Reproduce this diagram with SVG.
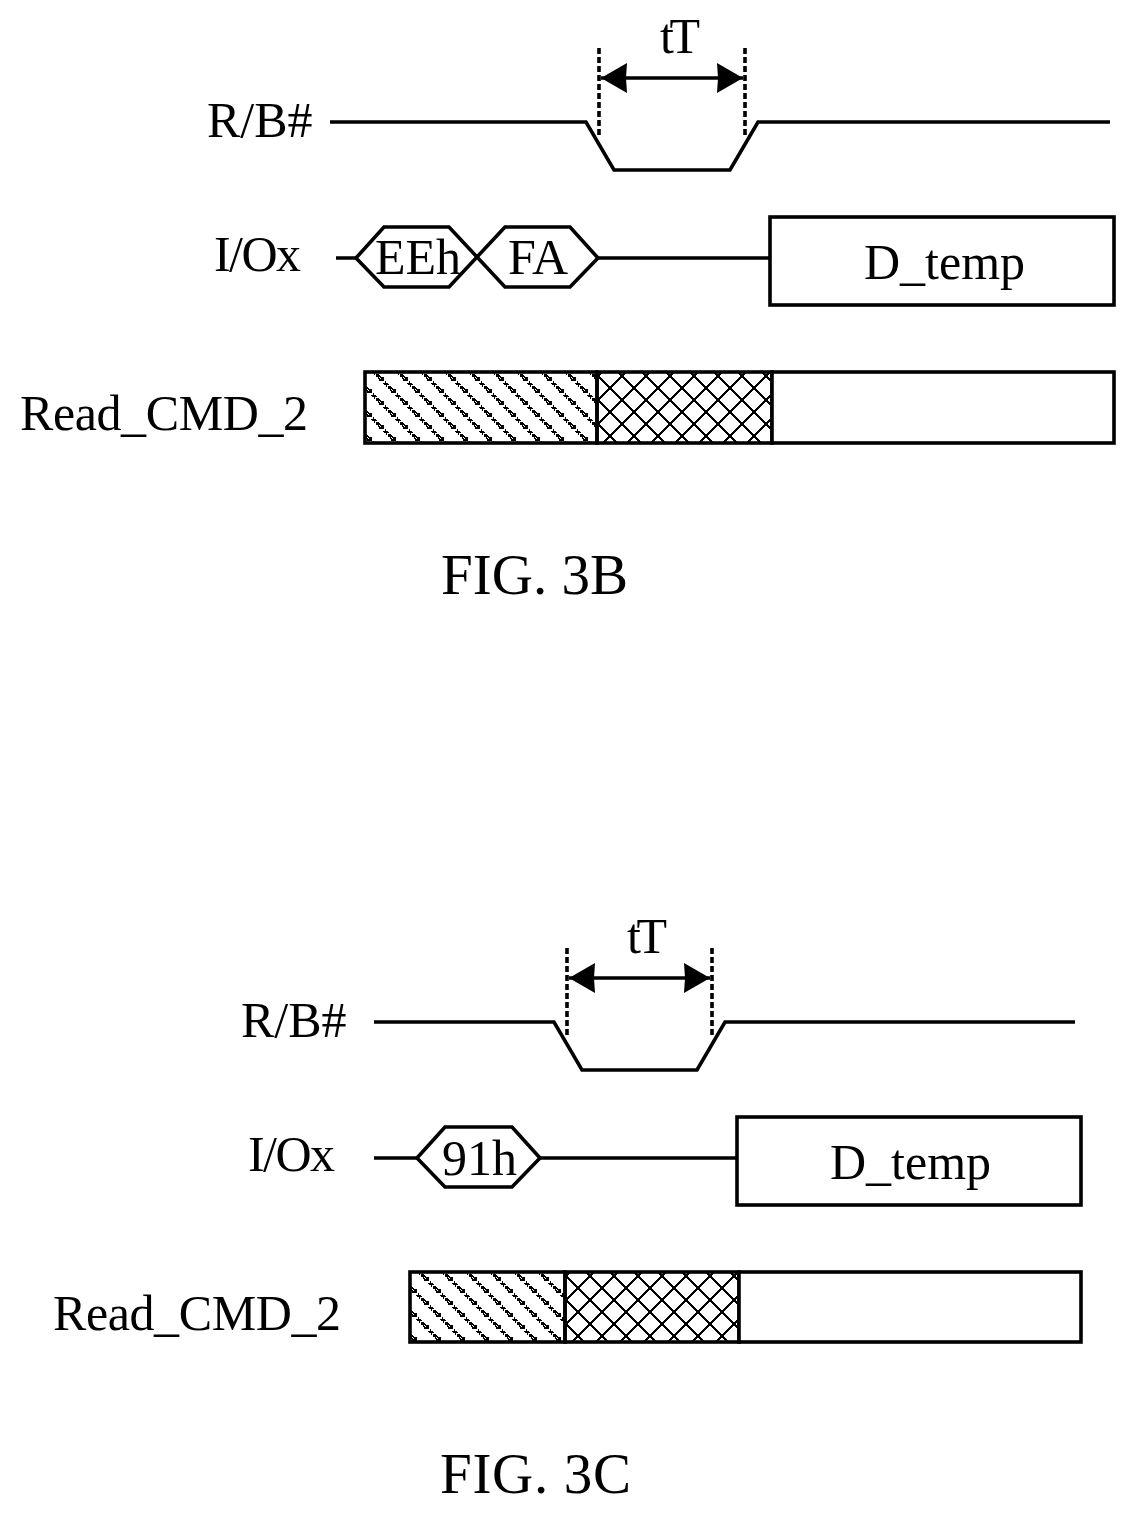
<svg xmlns="http://www.w3.org/2000/svg" width="1136" height="1515" viewBox="0 0 1136 1515">
<style>
text{font-family:"Liberation Serif","Times New Roman",serif;font-size:50px;fill:#000}
.cap{font-size:57px}
.ln{fill:none;stroke:#000;stroke-width:3.6}
.box{fill:#fff;stroke:#000;stroke-width:3.6}
.dash{fill:none;stroke:#000;stroke-width:3.6;stroke-dasharray:6 3}
.hat{fill:url(#hatch);stroke:#000;stroke-width:3.6}
.crs{fill:url(#cross);stroke:#000;stroke-width:3.6}
.dbl{fill:none;stroke:#000;stroke-width:3.6;marker-start:url(#ah);marker-end:url(#ah)}
</style>
<defs>
<marker id="ah" markerUnits="userSpaceOnUse" markerWidth="28" markerHeight="32" refX="26" refY="15" orient="auto-start-reverse"><path d="M0 0L26 15L0 30L1 15Z" fill="#000"/></marker>
<g id="blob"><path d="M-4 -4h3v1h1v1h1v1h3v4h-5v-2h-1v-2h-2z" fill="#000"/><path d="M-1 -1h1v1h1v1h-1v-1h-1z" fill="#fff"/></g>
<path id="tick" d="M5 3h1v2h2v1h1v1h-2v2h-1v-2h-2v-1h-1v-1h2z" fill="#000"/>
<pattern id="hatch" patternUnits="userSpaceOnUse" width="24" height="24" patternTransform="translate(380 378)">
<use href="#blob"/><use href="#blob" x="24"/><use href="#blob" y="24"/><use href="#blob" x="24" y="24"/><use href="#blob" x="12" y="12"/>
<use href="#tick"/><use href="#tick" x="12" y="12"/><use href="#tick" x="-12" y="12"/><use href="#tick" x="12" y="-12"/>
</pattern>
<pattern id="cross" patternUnits="userSpaceOnUse" width="24" height="24" patternTransform="translate(610 388)">
<path d="M-3 -3L27 27M-3 27L27 -3M-3 21L3 27M21 -3L27 3M21 27L27 21M-3 3L3 -3" fill="none" stroke="#000" stroke-width="1.5" shape-rendering="crispEdges"/>
</pattern>
<pattern id="hatch2" patternUnits="userSpaceOnUse" width="24" height="24" patternTransform="translate(425 1278)">
<use href="#blob"/><use href="#blob" x="24"/><use href="#blob" y="24"/><use href="#blob" x="24" y="24"/><use href="#blob" x="12" y="12"/>
<use href="#tick"/><use href="#tick" x="12" y="12"/><use href="#tick" x="-12" y="12"/><use href="#tick" x="12" y="-12"/>
</pattern>
<pattern id="cross2" patternUnits="userSpaceOnUse" width="24" height="24" patternTransform="translate(578 1288)">
<path d="M-3 -3L27 27M-3 27L27 -3M-3 21L3 27M21 -3L27 3M21 27L27 21M-3 3L3 -3" fill="none" stroke="#000" stroke-width="1.5" shape-rendering="crispEdges"/>
</pattern>
</defs>
<g id="connectors">
<path class="ln" d="M330 122H586L614 170H730L758 122H1110"/>
<path class="dash" d="M599 48V138M745 48V138"/>
<path class="dbl" d="M601 78H743"/>
<path class="ln" d="M336 258H356M598 258H770"/>
<path class="ln" d="M374 1022H554L582 1070H697L725 1022H1075"/>
<path class="dash" d="M567 948V1038M712 948V1038"/>
<path class="dbl" d="M569 978H710"/>
<path class="ln" d="M374 1158H417M540 1158H737"/>
</g>
<g id="fig3b">
<text id="tt1" x="660" y="53" textLength="40">tT</text>
<text id="rb1" x="207" y="137">R/B#</text>
<text id="io1" x="214" y="271" textLength="87">I/Ox</text>
<g id="eeh"><path class="ln" d="M356 258L384 227H449L505 287H570L598 258L570 227H505L449 287H384Z"/><text x="375" y="274">EEh</text></g>
<g id="fa"><text x="508" y="274">FA</text></g>
<g id="dtemp1"><rect class="box" x="770" y="217" width="344" height="88"/><text x="864" y="279">D_temp</text></g>
<text id="rc1" x="20" y="430" textLength="288">Read_CMD_2</text>
<g id="bar1">
<rect class="hat" x="365" y="372" width="232" height="71"/>
<rect class="crs" x="597" y="372" width="175" height="71"/>
<rect class="box" x="772" y="372" width="342" height="71"/>
</g>
<text id="cap1" class="cap" x="441" y="594" textLength="187">FIG. 3B</text>
</g>
<g id="fig3c">
<text id="tt2" x="627" y="953" textLength="40">tT</text>
<text id="rb2" x="241" y="1037">R/B#</text>
<text id="io2" x="248" y="1171" textLength="87">I/Ox</text>
<g id="h91"><path class="ln" d="M417 1158L445 1127H512L540 1158L512 1187H445Z"/><text x="442" y="1175">91h</text></g>
<g id="dtemp2"><rect class="box" x="737" y="1117" width="344" height="88"/><text x="830" y="1179">D_temp</text></g>
<text id="rc2" x="53" y="1330" textLength="288">Read_CMD_2</text>
<g id="bar2">
<rect x="410" y="1272" width="155" height="70" fill="url(#hatch2)" stroke="#000" stroke-width="3.6"/>
<rect x="565" y="1272" width="174" height="70" fill="url(#cross2)" stroke="#000" stroke-width="3.6"/>
<rect class="box" x="739" y="1272" width="342" height="70"/>
</g>
<text id="cap2" class="cap" x="440" y="1493" textLength="191">FIG. 3C</text>
</g>
</svg>
